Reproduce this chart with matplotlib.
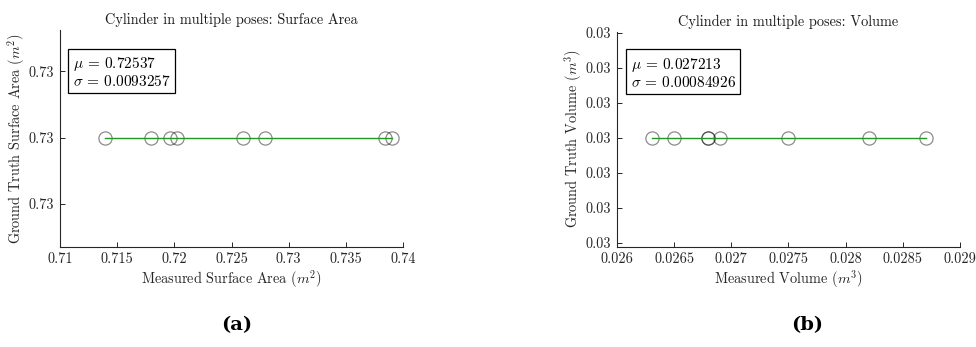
import numpy as np
import matplotlib
matplotlib.use("Agg")
import matplotlib.pyplot as plt
from matplotlib.ticker import FormatStrFormatter

plt.rcParams['font.family'] = 'serif'
plt.rcParams['font.serif'] = ['cmr10']
plt.rcParams['mathtext.fontset'] = 'cm'
plt.rcParams['axes.formatter.use_mathtext'] = True

area_measured = [0.7139, 0.7180, 0.7196, 0.7202, 0.7260, 0.7279, 0.7384, 0.7390]
area_truth = 0.73
vol_measured = [0.02631, 0.02650, 0.02680, 0.02680, 0.02690, 0.02750, 0.02820, 0.02870]
vol_truth = 0.03

area_xticks = [0.71, 0.715, 0.72, 0.725, 0.73, 0.735, 0.74]
vol_xticks = [0.026, 0.0265, 0.027, 0.0275, 0.028, 0.0285, 0.029]

fig = plt.figure(figsize=(9.76, 3.47), dpi=100)
ax1 = fig.add_axes([60/976, 1-246.5/347, 343/976, 216.5/347])
ax2 = fig.add_axes([617/976, 1-246.5/347, 343/976, 214.5/347])

fs = 10.3
tick_col = '0.15'


def panel(ax, meas, truth, dy, ylim_k, xticks, xfmt, title, xlab, ylab, mu_txt, sd_txt, box_xy, ypad):
    meas = np.array(meas)
    ax.plot(meas, np.full(len(meas), truth), 'o', ms=9.5, mfc='none',
            mec=(0, 0, 0, 0.45), mew=0.9, zorder=2)
    ax.plot([meas.min(), meas.max()], [truth, truth], color=(0.13, 0.6, 0.13), lw=1.0, zorder=3)
    ax.set_xlim(xticks[0], xticks[-1])
    ax.set_xticks(xticks)
    ax.xaxis.set_major_formatter(FormatStrFormatter(xfmt))
    ax.set_ylim(truth - ylim_k[0]*dy, truth + ylim_k[1]*dy)
    n = int(np.floor(ylim_k[0])), int(np.floor(ylim_k[1]))
    ax.set_yticks([truth + k*dy for k in range(-n[0], n[1]+1)])
    ax.yaxis.set_major_formatter(FormatStrFormatter('%.2f'))
    for s in ['top', 'right']:
        ax.spines[s].set_visible(False)
    for s in ['left', 'bottom']:
        ax.spines[s].set_color(tick_col)
        ax.spines[s].set_linewidth(0.8)
    ax.tick_params(direction='in', length=3.5, width=0.7, colors=tick_col,
                   labelsize=fs, labelcolor='0.15', pad=4)
    ax.set_title(title, fontsize=fs, color='0.1', pad=4)
    ax.set_xlabel(xlab, fontsize=fs, color='0.15', labelpad=2)
    ax.set_ylabel(ylab, fontsize=fs, color='0.15', labelpad=ypad)
    ax.text(box_xy[0], box_xy[1], mu_txt + '\n' + sd_txt, transform=ax.transAxes,
            fontsize=fs+0.7, va='top', ha='left', linespacing=1.1,
            bbox=dict(boxstyle='square,pad=0.28', fc='white', ec='black', lw=0.9))


panel(ax1, area_measured, area_truth, 0.0002, (1.64, 1.62), area_xticks, '%g',
      'Cylinder in multiple poses: Surface Area',
      r'Measured Surface Area ($m^2$)', r'Ground Truth Surface Area ($m^2$)',
      r'$\mu$ = 0.72537', r'$\sigma$ = 0.0093257', (0.037, 0.885), 1.5)
panel(ax2, vol_measured, vol_truth, 0.0002, (3.1, 3.03), vol_xticks, '%g',
      'Cylinder in multiple poses: Volume',
      r'Measured Volume ($m^3$)', r'Ground Truth Volume ($m^3$)',
      r'$\mu$ = 0.027213', r'$\sigma$ = 0.00084926', (0.04, 0.89), 1.5)

fig.text(237/976, 1-325/347, '(a)', fontsize=14, fontweight='bold',
         family='DejaVu Serif', ha='center', va='center')
fig.text(807/976, 1-325/347, '(b)', fontsize=14, fontweight='bold',
         family='DejaVu Serif', ha='center', va='center')

fig.savefig('out.png', dpi=100)
